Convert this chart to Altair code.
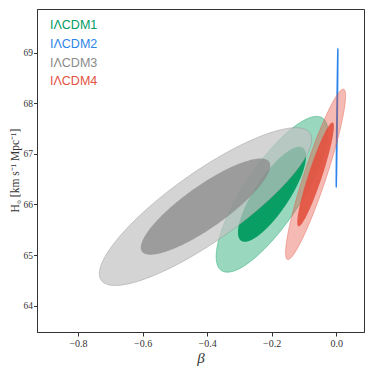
import numpy as np
import pandas as pd
import altair as alt

# ---- data ----
models = ["IΛCDM1", "IΛCDM2", "IΛCDM3", "IΛCDM4"]
colors = ["#009b5f", "#2b84ea", "#8a8a8a", "#e35241"]
outer_fill = ["#009b5f", "#2b84ea", "#c2c2c2", "#e35241"]
outer_alpha = [0.4, 0.4, 0.7, 0.4]
inner_alpha = [0.95, 0.95, 0.75, 0.92]
beta_mean = [-0.199, 0.0025, -0.405, -0.064]
h0_mean = [66.20, 67.71, 65.957, 66.594]
beta_sigma = [0.0696, 0.00105, 0.1323, 0.0374]
h0_sigma = [0.619, 0.545, 0.627, 0.677]
rho = [0.80, 0.95, 0.85, 0.92]
levels = ["outer", "inner"]
level_k = [2.486, 1.515]  # 95% and 68% contours for 2 parameters

x_ticks = [-0.8, -0.6, -0.4, -0.2, 0.0]
y_ticks = [64, 65, 66, 67, 68, 69]
x_domain = [-0.927, 0.086]
y_domain = [63.48, 69.86]

# ---- build ellipse outlines (upper/lower boundary per x) ----
t = np.linspace(0, np.pi, 181)
rows = []
for i, m in enumerate(models):
    phi = np.arccos(rho[i])
    for lev, k in zip(levels, level_k):
        A = k * beta_sigma[i]
        B = k * h0_sigma[i]
        xs = beta_mean[i] + A * np.cos(t)
        y1 = h0_mean[i] + B * np.cos(t - phi)
        y2 = h0_mean[i] + B * np.cos(t + phi)
        for a, b, c in zip(xs, y1, y2):
            rows.append({"model": m, "level": lev, "beta": a, "hi": b, "lo": c})
df = pd.DataFrame(rows)

xscale = alt.Scale(domain=x_domain, nice=False, zero=False)
yscale = alt.Scale(domain=y_domain, nice=False, zero=False)

layers = []
for i, m in enumerate(models):
    is_blue = m == "IΛCDM2"
    for lev in levels:
        if lev == "outer":
            props = dict(fill=outer_fill[i], fillOpacity=outer_alpha[i],
                         stroke=colors[i],
                         strokeOpacity=0.45 if not is_blue else 1.0,
                         strokeWidth=0.9 if not is_blue else 1.4)
        else:
            props = dict(fill=colors[i], fillOpacity=inner_alpha[i], strokeWidth=0)
        layer = alt.Chart(df).mark_area(**props).encode(
            x=alt.X("beta:Q", scale=xscale,
                    axis=alt.Axis(values=x_ticks, format=".1f", title="β",
                                  titleFont="Liberation Serif", titleFontStyle="italic",
                                  titleFontSize=15, titleFontWeight="normal",
                                  titlePadding=2)),
            y=alt.Y("hi:Q", scale=yscale,
                    axis=alt.Axis(values=y_ticks, format="d",
                                  title="H₀ [km s⁻¹ Mpc⁻¹]",
                                  titleFont="Liberation Serif", titleFontSize=11.5,
                                  titleFontWeight="normal",
                                  titleX=-22, titleY=161, titleBaseline="middle",
                                  labelFontSize=9.5, labelPadding=1, tickSize=3.5)),
            y2="lo:Q",
        ).transform_filter(
            (alt.datum.model == m) & (alt.datum.level == lev)
        )
        layers.append(layer)

leg = pd.DataFrame({"label": models, "col": colors, "i": list(range(len(models)))})
legend = alt.Chart(leg).mark_text(
    align="left", baseline="middle", font="Liberation Sans", fontSize=12.5
).transform_calculate(
    py="16.3 + datum.i * 18.7"
).encode(
    x=alt.value(13),
    y=alt.Y("py:Q", scale=None),
    text="label:N",
    color=alt.Color("col:N", scale=None),
)

chart = alt.layer(*layers, legend).properties(
    width=327, height=323,
    autosize=alt.AutoSizeParams(type="none"),
    padding={"left": 29, "top": 1, "right": 2, "bottom": 36},
).configure_view(
    stroke="#333333", strokeWidth=1
).configure_axis(
    grid=False, labelFont="Liberation Serif", labelFontSize=10,
    labelColor="#333333", tickColor="#333333", domainColor="#333333",
    tickSize=4, titleColor="#333333", labelPadding=2
)

chart.save("out.html", embed_options={"renderer": "svg", "actions": False})
